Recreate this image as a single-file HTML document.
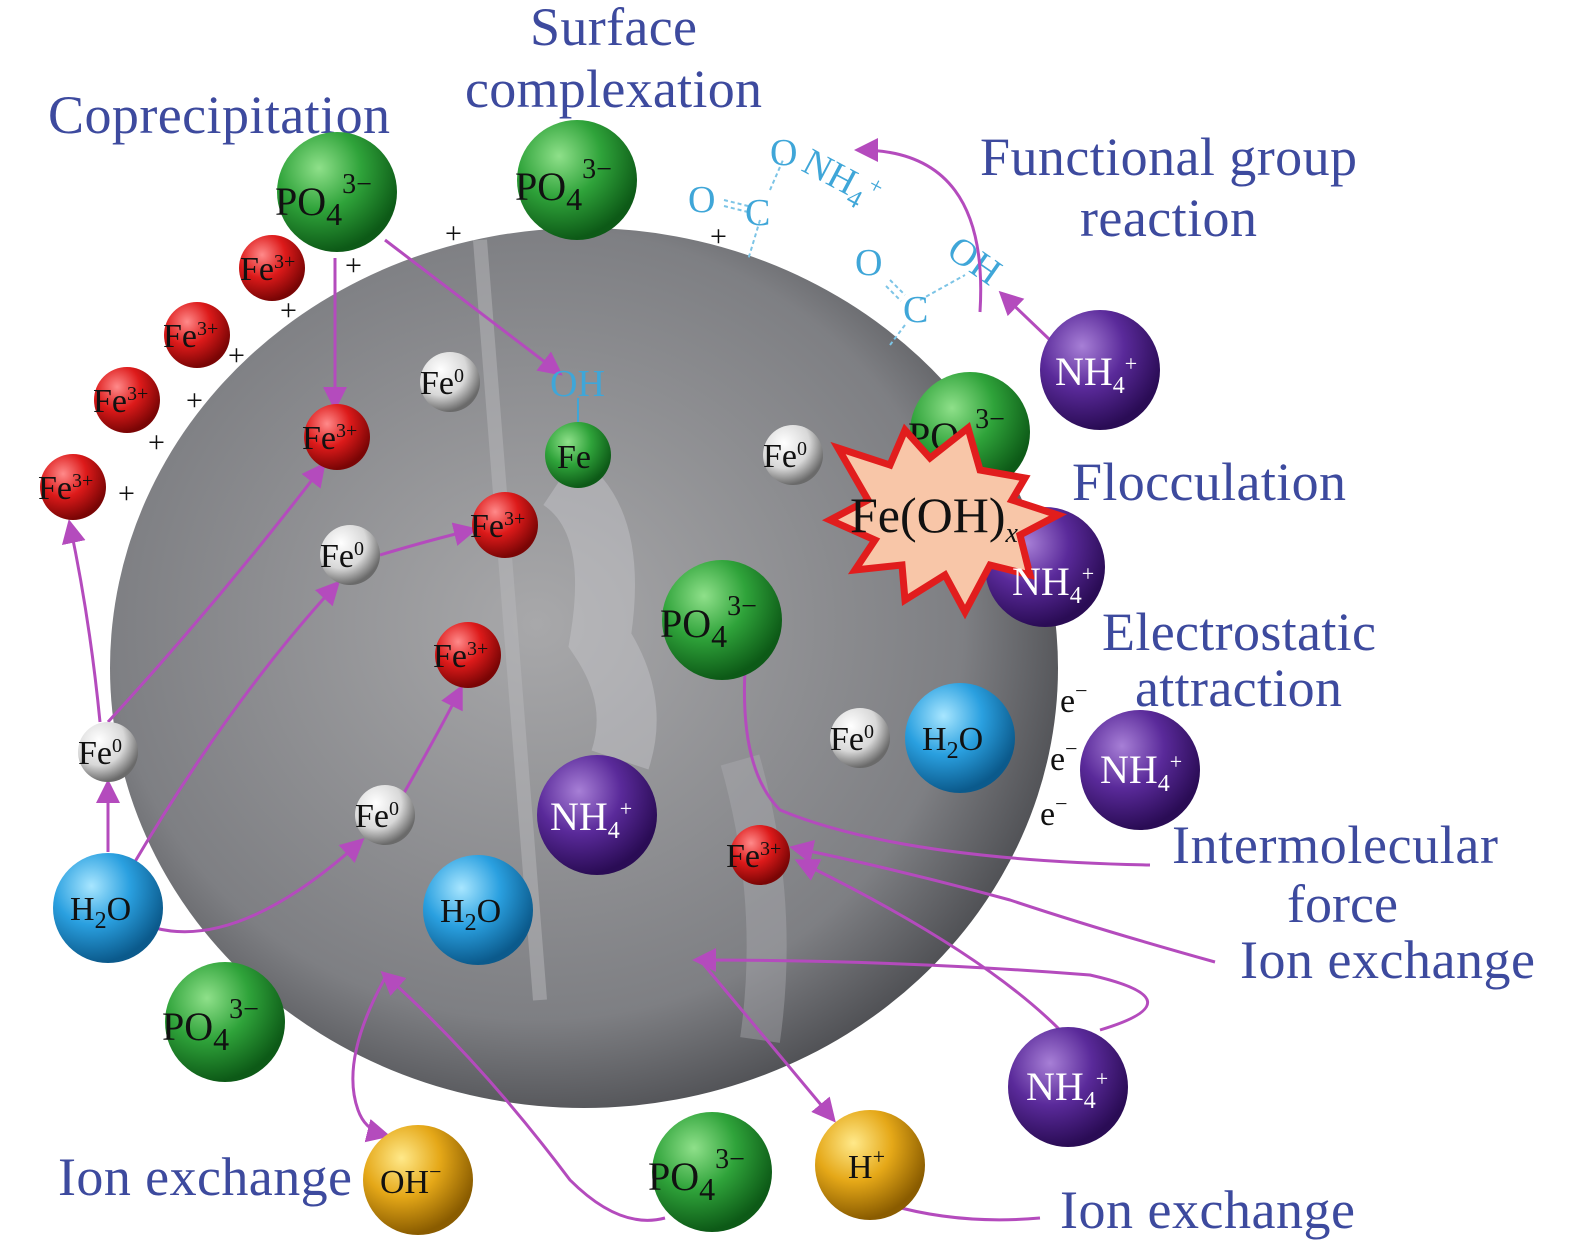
<!DOCTYPE html>
<html><head><meta charset="utf-8"><style>
html,body{margin:0;padding:0;background:#fff;}
svg{display:block;font-family:"Liberation Serif",serif;}
.lb{fill:#3d4a9e;font-size:54px;}
.t{font-size:40px;fill:#111;}
.tw{font-size:40px;fill:#fff;}
.ts{font-size:34px;fill:#111;}
.ar{stroke:#b44bbd;stroke-width:3;fill:none;marker-end:url(#ah);}
.ln{stroke:#b44bbd;stroke-width:3;fill:none;}
.cy{fill:#3fa6d8;font-size:38px;}
</style></head><body>
<svg width="1575" height="1256" viewBox="0 0 1575 1256" xmlns="http://www.w3.org/2000/svg">
<defs>
<marker id="ah" markerWidth="8" markerHeight="8" refX="6" refY="4" orient="auto" markerUnits="strokeWidth"><path d="M0,0 L8,4 L0,8 Z" fill="#b44bbd"/></marker>
<radialGradient id="bg" cx="45%" cy="45%" r="60%"><stop offset="0" stop-color="#a8a8aa"/><stop offset="0.75" stop-color="#7e7f83"/><stop offset="1" stop-color="#45464a"/></radialGradient>
<radialGradient id="g" cx="35%" cy="30%" r="70%"><stop offset="0" stop-color="#8fe08a"/><stop offset="0.5" stop-color="#2fa33a"/><stop offset="1" stop-color="#0d5a17"/></radialGradient>
<radialGradient id="r" cx="35%" cy="30%" r="70%"><stop offset="0" stop-color="#ff8a8a"/><stop offset="0.5" stop-color="#dd1a1a"/><stop offset="1" stop-color="#7a0505"/></radialGradient>
<radialGradient id="w" cx="35%" cy="30%" r="70%"><stop offset="0" stop-color="#ffffff"/><stop offset="0.6" stop-color="#d8d8d8"/><stop offset="1" stop-color="#6a6a6a"/></radialGradient>
<radialGradient id="b" cx="35%" cy="30%" r="70%"><stop offset="0" stop-color="#a8e6ff"/><stop offset="0.5" stop-color="#2aa0e0"/><stop offset="1" stop-color="#0b5a8c"/></radialGradient>
<radialGradient id="p" cx="35%" cy="30%" r="70%"><stop offset="0" stop-color="#a77fd6"/><stop offset="0.5" stop-color="#5a2a9a"/><stop offset="1" stop-color="#2a0c55"/></radialGradient>
<radialGradient id="y" cx="35%" cy="30%" r="70%"><stop offset="0" stop-color="#ffe98a"/><stop offset="0.5" stop-color="#e5a818"/><stop offset="1" stop-color="#8a5c00"/></radialGradient>
</defs>

<ellipse cx="584" cy="668" rx="474" ry="440" fill="url(#bg)"/>
<path d="M480,240 L540,1000" stroke="#b8b8bb" stroke-width="14" opacity="0.5"/>
<path d="M560,480 Q620,520 600,640 Q640,700 620,760" stroke="#c8c8cc" stroke-width="60" fill="none" opacity="0.45"/>
<path d="M740,760 Q780,900 760,1040" stroke="#b0b0b4" stroke-width="40" fill="none" opacity="0.4"/>

<!-- labels -->
<text class="lb" x="530" y="45" textLength="167">Surface</text>
<text class="lb" x="465" y="107" textLength="297">complexation</text>
<text class="lb" x="48" y="133" textLength="342">Coprecipitation</text>
<text class="lb" x="980" y="175" textLength="377">Functional group</text>
<text class="lb" x="1080" y="236" textLength="177">reaction</text>
<text class="lb" x="1072" y="500" textLength="274">Flocculation</text>
<text class="lb" x="1102" y="650" textLength="274">Electrostatic</text>
<text class="lb" x="1135" y="706" textLength="207">attraction</text>
<text class="lb" x="1172" y="863" textLength="326">Intermolecular</text>
<text class="lb" x="1287" y="922" textLength="111">force</text>
<text class="lb" x="1240" y="978" textLength="295">Ion exchange</text>
<text class="lb" x="58" y="1195" textLength="294">Ion exchange</text>
<text class="lb" x="1060" y="1228" textLength="295">Ion exchange</text>

<!-- functional groups -->
<g stroke="#7cc4e6" stroke-width="2" stroke-dasharray="4,3">
<line x1="724" y1="200" x2="748" y2="206"/><line x1="724" y1="206" x2="748" y2="212"/>
<line x1="760" y1="220" x2="748" y2="260"/><line x1="770" y1="190" x2="783" y2="160"/>
<line x1="890" y1="280" x2="905" y2="295"/><line x1="886" y1="286" x2="901" y2="301"/>
<line x1="920" y1="300" x2="965" y2="275"/><line x1="905" y1="325" x2="890" y2="345"/>
</g>
<text class="cy" x="688" y="212">O</text><text class="cy" x="745" y="225">C</text>
<text class="cy" x="770" y="165">O</text>
<text class="cy" x="800" y="170" transform="rotate(28 800 170)">NH<tspan font-size="26" dy="8">4</tspan><tspan font-size="24" dy="-22">+</tspan></text>
<text class="cy" x="855" y="275">O</text><text class="cy" x="903" y="322">C</text>
<text class="cy" x="945" y="255" transform="rotate(35 945 255)">OH</text>

<!-- plus signs -->
<g font-size="30" fill="#111">
<text x="530" y="222">+</text><text x="603" y="226">+</text><text x="445" y="243">+</text><text x="710" y="246">+</text>
<text x="345" y="275">+</text><text x="280" y="320">+</text><text x="228" y="365">+</text><text x="186" y="410">+</text>
<text x="148" y="452">+</text><text x="118" y="503">+</text>
</g>
<g font-size="34" fill="#111"><text x="1060" y="712">e<tspan font-size="22" dy="-14">−</tspan></text><text x="1050" y="770">e<tspan font-size="22" dy="-14">−</tspan></text><text x="1040" y="825">e<tspan font-size="22" dy="-14">−</tspan></text></g>

<!-- arrows -->
<path class="ar" d="M335,258 L335,405"/>
<path class="ar" d="M385,240 L558,372"/>
<path class="ar" d="M100,722 Q90,620 70,525"/>
<path class="ar" d="M108,722 Q220,600 322,467"/>
<path class="ar" d="M380,555 Q430,540 472,530"/>
<path class="ar" d="M108,852 L108,785"/>
<path class="ar" d="M130,870 Q230,700 336,585"/>
<path class="ar" d="M155,928 Q240,950 360,842"/>
<path class="ar" d="M400,800 Q440,730 460,690"/>
<path class="ar" d="M1050,340 L1003,295"/>
<path class="ar" d="M980,312 Q990,150 860,150"/>
<path class="ln" d="M745,670 Q740,770 780,810 Q900,860 1150,865"/>
<path class="ar" d="M1215,962 Q1100,930 1010,900 Q900,870 795,848"/>
<path class="ar" d="M1060,1030 Q980,950 800,862"/>
<path class="ar" d="M1100,1030 Q1200,1000 1090,975 Q900,960 698,960"/>
<path class="ar" d="M700,960 L832,1118"/>
<path class="ln" d="M890,1205 Q960,1225 1040,1218"/>
<path class="ar" d="M665,1218 Q620,1230 570,1180 Q480,1060 385,975"/>
<path class="ar" d="M385,978 Q340,1060 358,1110 Q365,1130 385,1135"/>

<!-- green PO4 -->
<g>
<circle cx="337" cy="192" r="60" fill="url(#g)"/><text class="t" x="275" y="215" font-size="50">PO<tspan font-size="32" dy="10">4</tspan><tspan font-size="28" dy="-32">3−</tspan></text>
<circle cx="577" cy="180" r="60" fill="url(#g)"/><text class="t" x="515" y="200" font-size="50">PO<tspan font-size="32" dy="10">4</tspan><tspan font-size="28" dy="-32">3−</tspan></text>
<circle cx="970" cy="432" r="60" fill="url(#g)"/><text class="t" x="908" y="450" font-size="50">PO<tspan font-size="32" dy="10">4</tspan><tspan font-size="28" dy="-32">3−</tspan></text>
<circle cx="722" cy="620" r="60" fill="url(#g)"/><text class="t" x="660" y="637" font-size="50">PO<tspan font-size="32" dy="10">4</tspan><tspan font-size="28" dy="-32">3−</tspan></text>
<circle cx="225" cy="1022" r="60" fill="url(#g)"/><text class="t" x="162" y="1040" font-size="50">PO<tspan font-size="32" dy="10">4</tspan><tspan font-size="28" dy="-32">3−</tspan></text>
<circle cx="712" cy="1172" r="60" fill="url(#g)"/><text class="t" x="648" y="1190" font-size="50">PO<tspan font-size="32" dy="10">4</tspan><tspan font-size="28" dy="-32">3−</tspan></text>
</g>
<circle cx="1045" cy="567" r="60" fill="url(#p)"/>
<path d="M838,448 L890,465 L905,430 L930,458 L968,428 L980,470 L1025,478 L1012,500 L1058,515 L1020,535 L1030,575 L990,565 L965,612 L945,575 L905,600 L902,565 L855,570 L875,540 L830,520 L868,500 Z" fill="#f8c6a8" stroke="#e11d1d" stroke-width="7"/>
<text x="850" y="532" font-size="50" fill="#111">Fe(OH)<tspan font-size="28" dy="10" font-style="italic">x</tspan></text>
<text class="tw" x="1012" y="595">NH<tspan font-size="24" dy="8">4</tspan><tspan font-size="22" dy="-22">+</tspan></text>

<g>
<circle cx="1100" cy="370" r="60" fill="url(#p)"/><text class="tw" x="1055" y="385">NH<tspan font-size="24" dy="8">4</tspan><tspan font-size="22" dy="-22">+</tspan></text>
<circle cx="597" cy="815" r="60" fill="url(#p)"/><text class="tw" x="550" y="830">NH<tspan font-size="24" dy="8">4</tspan><tspan font-size="22" dy="-22">+</tspan></text>
<circle cx="1140" cy="770" r="60" fill="url(#p)"/><text class="tw" x="1100" y="783">NH<tspan font-size="24" dy="8">4</tspan><tspan font-size="22" dy="-22">+</tspan></text>
<circle cx="1068" cy="1087" r="60" fill="url(#p)"/><text class="tw" x="1026" y="1100">NH<tspan font-size="24" dy="8">4</tspan><tspan font-size="22" dy="-22">+</tspan></text>
</g>
<g>
<circle cx="272" cy="268" r="33" fill="url(#r)"/><text class="ts" x="240" y="280">Fe<tspan font-size="20" dy="-12">3+</tspan></text>
<circle cx="197" cy="335" r="33" fill="url(#r)"/><text class="ts" x="163" y="347">Fe<tspan font-size="20" dy="-12">3+</tspan></text>
<circle cx="127" cy="400" r="33" fill="url(#r)"/><text class="ts" x="93" y="412">Fe<tspan font-size="20" dy="-12">3+</tspan></text>
<circle cx="73" cy="487" r="33" fill="url(#r)"/><text class="ts" x="38" y="499">Fe<tspan font-size="20" dy="-12">3+</tspan></text>
<circle cx="337" cy="437" r="33" fill="url(#r)"/><text class="ts" x="302" y="449">Fe<tspan font-size="20" dy="-12">3+</tspan></text>
<circle cx="505" cy="525" r="33" fill="url(#r)"/><text class="ts" x="470" y="537">Fe<tspan font-size="20" dy="-12">3+</tspan></text>
<circle cx="468" cy="655" r="33" fill="url(#r)"/><text class="ts" x="433" y="667">Fe<tspan font-size="20" dy="-12">3+</tspan></text>
<circle cx="760" cy="855" r="30" fill="url(#r)"/><text class="ts" x="726" y="867">Fe<tspan font-size="20" dy="-12">3+</tspan></text>
</g>
<g>
<circle cx="450" cy="382" r="30" fill="url(#w)"/><text class="ts" x="420" y="394">Fe<tspan font-size="20" dy="-12">0</tspan></text>
<circle cx="350" cy="555" r="30" fill="url(#w)"/><text class="ts" x="320" y="567">Fe<tspan font-size="20" dy="-12">0</tspan></text>
<circle cx="108" cy="752" r="30" fill="url(#w)"/><text class="ts" x="78" y="764">Fe<tspan font-size="20" dy="-12">0</tspan></text>
<circle cx="385" cy="815" r="30" fill="url(#w)"/><text class="ts" x="355" y="827">Fe<tspan font-size="20" dy="-12">0</tspan></text>
<circle cx="793" cy="455" r="30" fill="url(#w)"/><text class="ts" x="763" y="467">Fe<tspan font-size="20" dy="-12">0</tspan></text>
<circle cx="860" cy="738" r="30" fill="url(#w)"/><text class="ts" x="830" y="750">Fe<tspan font-size="20" dy="-12">0</tspan></text>
</g>
<line x1="578" y1="398" x2="578" y2="422" stroke="#3fa6d8" stroke-width="2"/>
<text class="cy" x="550" y="396" font-size="36">OH</text>
<circle cx="578" cy="455" r="33" fill="url(#g)"/><text class="ts" x="557" y="468" font-size="36">Fe</text>
<g>
<circle cx="108" cy="908" r="55" fill="url(#b)"/><text class="ts" x="70" y="920" font-size="38">H<tspan font-size="24" dy="8">2</tspan><tspan dy="-8">O</tspan></text>
<circle cx="478" cy="910" r="55" fill="url(#b)"/><text class="ts" x="440" y="922" font-size="38">H<tspan font-size="24" dy="8">2</tspan><tspan dy="-8">O</tspan></text>
<circle cx="960" cy="738" r="55" fill="url(#b)"/><text class="ts" x="922" y="750" font-size="38">H<tspan font-size="24" dy="8">2</tspan><tspan dy="-8">O</tspan></text>
</g>
<circle cx="418" cy="1180" r="55" fill="url(#y)"/><text class="ts" x="380" y="1193" font-size="36">OH<tspan font-size="22" dy="-14">−</tspan></text>
<circle cx="870" cy="1165" r="55" fill="url(#y)"/><text class="ts" x="848" y="1178" font-size="36">H<tspan font-size="22" dy="-14">+</tspan></text>
</svg>
</body></html>
